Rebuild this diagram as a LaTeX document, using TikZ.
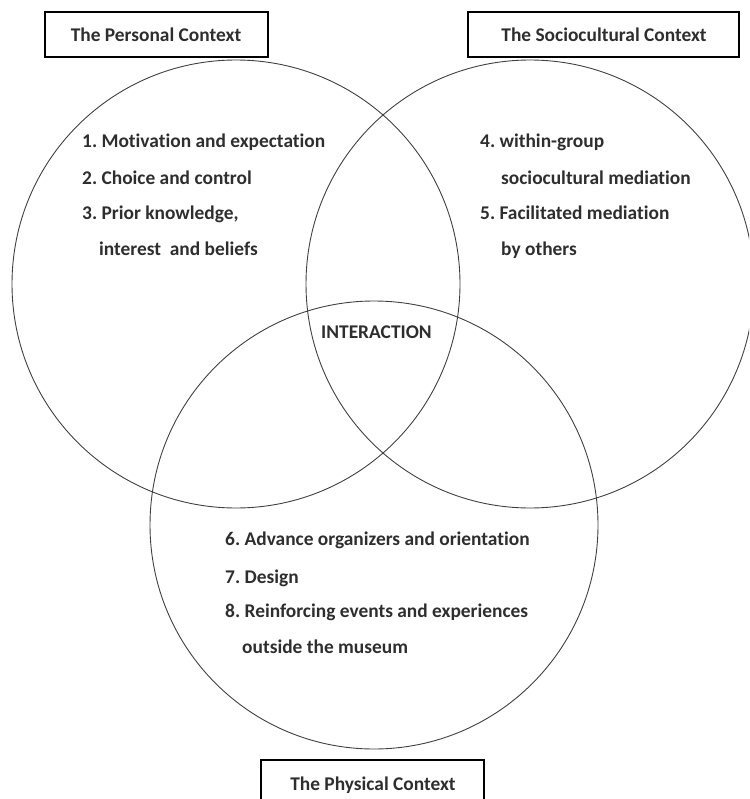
\documentclass[tikz,border=0pt]{standalone}
\usepackage{fontspec}
\setmainfont[RawFeature=-liga]{Carlito}
\frenchspacing
\begin{document}
\begin{tikzpicture}[x=1pt,y=-1pt,
  ring/.style={circle,draw=black!75,line width=0.9pt,minimum size=448pt,inner sep=0pt},
  ctxbox/.style={draw=black,line width=1.3pt,inner sep=0pt},
  lbl/.style={anchor=base west,inner sep=0pt,font=\fontsize{19.4}{22}\selectfont\bfseries,text=black!82},
  ttl/.style={anchor=base,inner sep=0pt,font=\fontsize{19.4}{22}\selectfont\bfseries,text=black!82}]
\useasboundingbox (0,0) rectangle (749,799);
\clip (0,0) rectangle (749,799);

% the three overlapping contexts
\node[ring] (personal) at (236,284) {};
\node[ring] (socio) at (530,284) {};
\node[ring] (physical) at (374,525) {};

% context title boxes
\node[ctxbox,minimum width=223pt,minimum height=45pt] (pbox) at (156.5,34.5) {};
\node[ttl] (ptitle) at (156,42) {The Personal Context};
\node[ctxbox,minimum width=271pt,minimum height=45pt] (sbox) at (603.5,34.5) {};
\node[ttl] (stitle) at (604,42) {The Sociocultural Context};
\node[ctxbox,minimum width=223pt,minimum height=60pt] (phbox) at (372.5,790) {};
\node[ttl] (phtitle) at (373,790) {The Physical Context};

% personal context factors
\node[lbl] (p1) at (82,148) {1. Motivation and expectation};
\node[lbl] (p2) at (82,185) {2. Choice and control};
\node[lbl] (p3) at (82,220) {3. Prior knowledge,};
\node[lbl] (p3b) at (99,255) {interest\ \ and beliefs};

% sociocultural context factors
\node[lbl] (s4) at (480,148) {4. within-group};
\node[lbl] (s4b) at (501,185) {sociocultural mediation};
\node[lbl] (s5) at (480,220) {5. Facilitated mediation};
\node[lbl] (s5b) at (501,255) {by others};

% shared centre
\node[lbl] (inter) at (321,338) {INTERACTION};

% physical context factors
\node[lbl] (h6) at (225,545) {6. Advance organizers and orientation};
\node[lbl] (h7) at (225,583) {7. Design};
\node[lbl] (h8) at (225,617) {8. Reinforcing events and experiences};
\node[lbl] (h8b) at (242,653) {outside the museum};
\end{tikzpicture}
\end{document}
